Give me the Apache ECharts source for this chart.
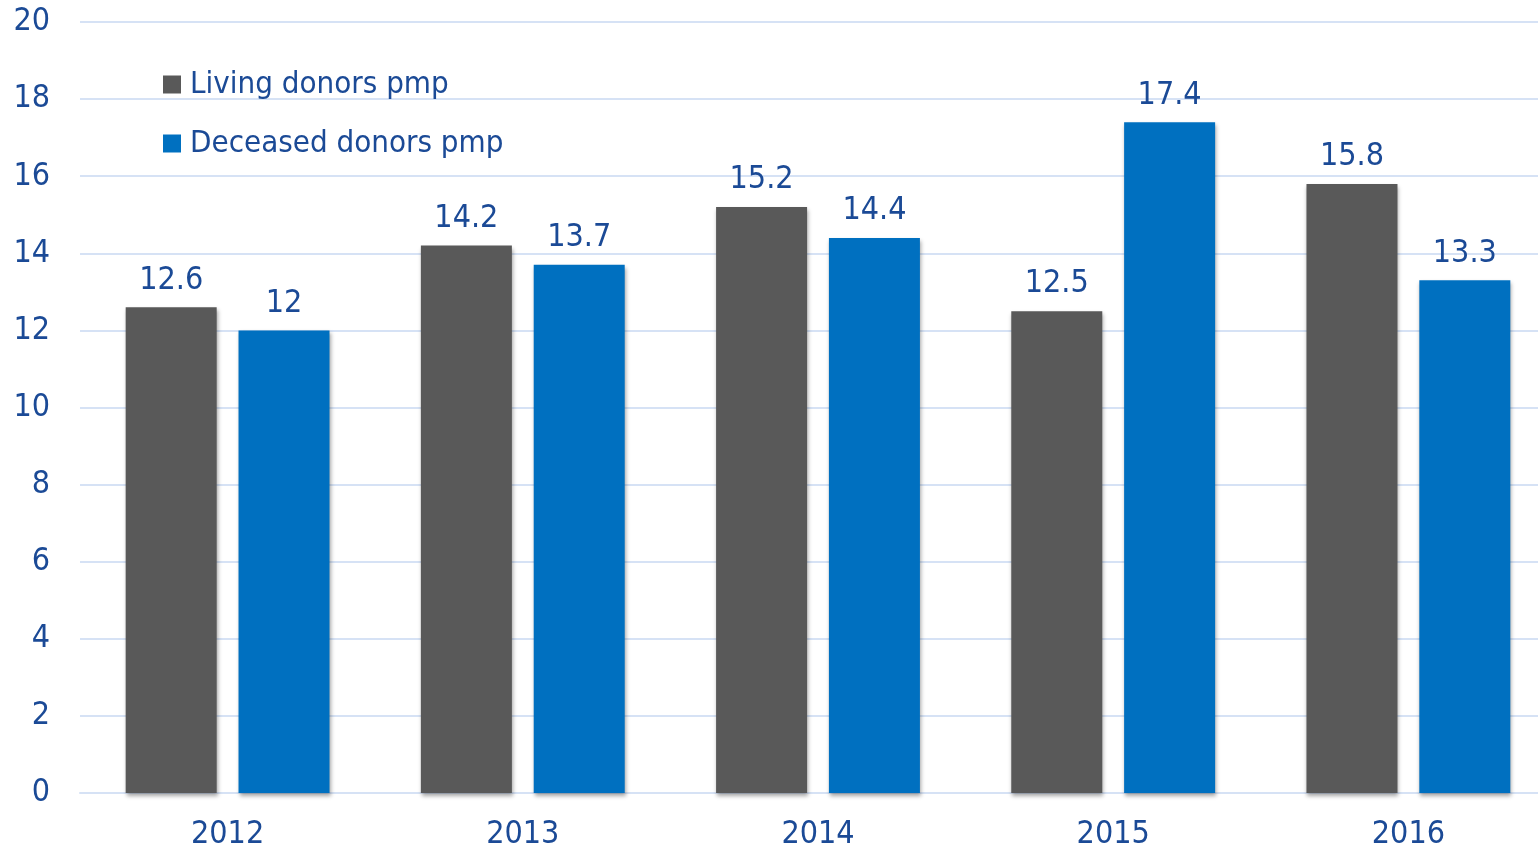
<!DOCTYPE html>
<html><head><meta charset="utf-8">
<script src="https://cdn.jsdelivr.net/npm/echarts@6/dist/echarts.min.js"></script>
<style>html,body{margin:0;padding:0;background:#fff;overflow:hidden;width:1538px;height:853px}#c{width:1556px;height:853px}</style>
</head><body><div id="c"></div>
<script>
const categories = ['2012','2013','2014','2015','2016'];
const livingDonors = [12.6, 14.2, 15.2, 12.5, 15.8];
const deceasedDonors = [12, 13.7, 14.4, 17.4, 13.3];
const yTicks = [0,2,4,6,8,10,12,14,16,18,20];

const FONT = '"DejaVu Sans Condensed", "DejaVu Sans", sans-serif';
const TXT = '#1B4A96';
const chart = echarts.init(document.getElementById('c'));
const shadow = {shadowColor:'rgba(0,0,0,0.35)', shadowBlur:4, shadowOffsetX:1, shadowOffsetY:3};
chart.setOption({
  animation:false,
  textStyle:{fontFamily:FONT},
  legend:{
    orient:'vertical', left:158, top:64, itemGap:28, itemWidth:18, itemHeight:18,
    icon:'rect',
    textStyle:{color:TXT, fontSize:31, fontFamily:FONT, padding:[0,0,0,4]},
    data:['Living donors pmp','Deceased donors pmp']
  },
  grid:{left:80, right:0, top:22, bottom:60, containLabel:false},
  xAxis:{
    type:'category', data:categories,
    axisLine:{show:true, lineStyle:{color:'#D6E2F5', width:2}},
    axisTick:{show:false},
    axisLabel:{color:TXT, fontSize:32, fontFamily:FONT, margin:26}
  },
  yAxis:{
    type:'value', min:0, max:20, interval:2,
    axisLine:{show:false}, axisTick:{show:false},
    splitLine:{lineStyle:{color:'#D6E2F5', width:2}},
    axisLabel:{color:TXT, fontSize:32, fontFamily:FONT, margin:30,
      formatter:v=>yTicks.includes(v)?String(v):''}
  },
  series:[
    {name:'Living donors pmp', type:'bar', data:livingDonors, barWidth:91, barGap:'24%',
     itemStyle:Object.assign({color:'#595959'}, shadow),
     label:{show:true, position:'top', distance:11, color:TXT, fontSize:32, fontFamily:FONT}},
    {name:'Deceased donors pmp', type:'bar', data:deceasedDonors, barWidth:91,
     itemStyle:Object.assign({color:'#0070C0'}, shadow),
     label:{show:true, position:'top', distance:11, color:TXT, fontSize:32, fontFamily:FONT}}
  ]
});
</script></body></html>
